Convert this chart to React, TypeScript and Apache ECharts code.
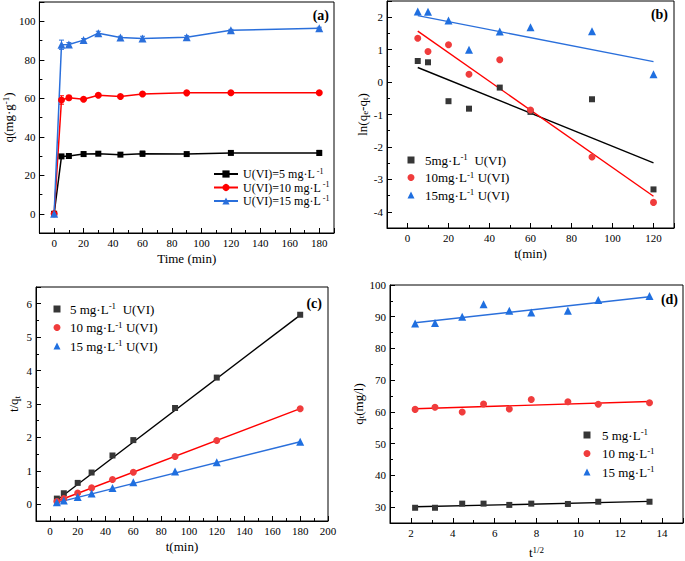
import React, { useEffect, useRef } from "react";
import * as echarts from "echarts";

// ---------- data ----------
const timeA = [0, 5, 10, 20, 30, 45, 60, 90, 120, 180];
const qA5 = [0, 29.8, 30.0, 31.0, 31.2, 30.7, 31.2, 31.0, 31.6, 31.6];
const qA10 = [0, 59.1, 60.3, 59.5, 61.6, 60.9, 62.2, 62.8, 62.9, 62.9];
const qA15 = [0, 87.8, 87.9, 90.2, 93.8, 91.6, 91.0, 91.7, 95.3, 96.4];
const errA5 = [0, 0.6, 0.6, 1.2, 0.6, 0.5, 1.3, 0.5, 0.5, 1.3];
const errA10 = [0, 2.2, 1.2, 0.6, 0.6, 0.5, 0.6, 0.4, 0.3, 0.3];
const errA15 = [0, 2.4, 1.0, 0.8, 1.0, 0.6, 1.2, 0.8, 0.5, 0.5];

const timeB = [5, 10, 20, 30, 45, 60, 90, 120];
const lnB5 = [0.65, 0.61, -0.59, -0.82, -0.17, -0.92, -0.53, -3.31];
const lnB10 = [1.35, 0.94, 1.15, 0.24, 0.69, -0.86, -2.31, -3.71];
const lnB15 = [2.18, 2.17, 1.9, 1.0, 1.56, 1.69, 1.57, 0.24];
const fitBx = [5, 120];
const fitB5 = [0.45, -2.49];
const fitB10 = [1.57, -3.52];
const fitB15 = [2.05, 0.63];

const timeC = [5, 10, 20, 30, 45, 60, 90, 120, 180];
const tqC5 = [0.17, 0.33, 0.64, 0.95, 1.46, 1.92, 2.88, 3.79, 5.67];
const tqC10 = [0.085, 0.17, 0.34, 0.49, 0.74, 0.96, 1.43, 1.91, 2.86];
const tqC15 = [0.06, 0.11, 0.22, 0.32, 0.49, 0.66, 0.98, 1.26, 1.87];
const fitCx = [5, 180];
const fitC5 = [0.12, 5.66];
const fitC10 = [0.09, 2.86];
const fitC15 = [0.05, 1.87];

const sqrtD = [2.2, 3.15, 4.45, 5.47, 6.7, 7.75, 9.5, 10.95, 13.4];
const qD5 = [29.8, 29.8, 31.1, 31.1, 30.7, 31.1, 31.0, 31.7, 31.7];
const qD10 = [60.8, 61.5, 60.0, 62.5, 60.9, 63.9, 63.2, 62.4, 62.9];
const qD15 = [87.9, 88.0, 90.0, 93.9, 91.9, 91.3, 91.9, 95.3, 96.5];
const fitDx = [2.2, 13.4];
const fitD5 = [30.1, 31.8];
const fitD10 = [61.0, 63.3];
const fitD15 = [88.1, 96.3];

const legendText: Record<string, string> = {
  a5: "{n|U(VI)=5 mg·L}{s| -1}",
  a10: "{n|U(VI)=10 mg·L}{s| -1}",
  a15: "{n|U(VI)=15 mg·L}{s| -1}",
  b5: "{sp| }{n|5mg·L}{s|-1}{n|  U(VI)}",
  b10: "{sp| }{n|10mg·L}{s|-1}{n| U(VI)}",
  b15: "{sp| }{n|15mg·L}{s|-1}{n| U(VI)}",
  c5: "{sp| }{n|5 mg·L}{s|-1}{n|  U(VI)}",
  c10: "{sp| }{n|10 mg·L}{s|-1}{n| U(VI)}",
  c15: "{sp| }{n|15 mg·L}{s|-1}{n| U(VI)}",
  d5: "{sp| }{n|5 mg·L}{s|-1}",
  d10: "{sp| }{n|10 mg·L}{s|-1}",
  d15: "{sp| }{n|15 mg·L}{s|-1}",
};

const FONT = "'Liberation Serif', 'DejaVu Serif', serif";
const BLACK = "#000000";
const RED = "#ff0000";
const BLUE = "#2a6fdb";
const MK_BLACK = "#363636";
const MK_RED = "#f03c3c";
const MK_BLUE = "#1f6fe0";

const zip = (xs: number[], ys: number[]) => xs.map((x, i) => [x, ys[i]]);

function richFor(size: number, spacer = 0) {
  return {
    n: { fontSize: size, fontFamily: FONT, fontWeight: "normal", color: "#000", lineHeight: size + 2 },
    s: { fontSize: size - 4, fontFamily: FONT, fontWeight: "normal", color: "#000", verticalAlign: "top", lineHeight: size - 3 },
    b: { fontSize: size - 4, fontFamily: FONT, fontWeight: "normal", color: "#000", verticalAlign: "bottom", lineHeight: size - 3 },
    sp: { width: spacer, fontSize: 4, lineHeight: 4 },
  };
}

function axis(
  gridIndex: number,
  min: number,
  max: number,
  splitNumber: number,
  name: string,
  nameGap: number,
  isY: boolean,
  showMax: boolean
) {
  return {
    type: "value",
    gridIndex,
    min,
    max,
    splitNumber,
    name,
    nameLocation: "middle",
    nameGap,
    nameRotate: isY ? 90 : 0,
    nameTextStyle: { fontFamily: FONT, fontSize: 13, fontWeight: "normal", color: "#000", rich: richFor(13) },
    axisLine: { show: true, onZero: false, lineStyle: { color: "#000", width: 1 } },
    axisTick: { show: true, inside: true, length: 5, lineStyle: { color: "#000" } },
    minorTick: { show: true, splitNumber: 2, length: 3, lineStyle: { color: "#000" } },
    splitLine: { show: false },
    minorSplitLine: { show: false },
    axisLabel: {
      color: "#000",
      fontFamily: FONT,
      fontWeight: "normal",
      fontSize: 11,
      margin: 4,
      showMinLabel: false,
      showMaxLabel: showMax,
    },
  };
}

function legend(
  left: number,
  top: number,
  names: string[],
  w: number,
  h: number,
  gap: number,
  size: number,
  spacer: number
) {
  return {
    orient: "vertical",
    left,
    top,
    padding: 0,
    itemWidth: w,
    itemHeight: h,
    itemGap: gap,
    data: names,
    formatter: (nm: string) => legendText[nm] || nm,
    textStyle: { fontFamily: FONT, fontSize: size, fontWeight: "normal", color: "#000", rich: richFor(size, spacer) },
    selectedMode: false,
  };
}

function scatter(name: string, idx: number, xs: number[], ys: number[], symbol: string, size: number, color: string) {
  return {
    type: "scatter",
    name,
    xAxisIndex: idx,
    yAxisIndex: idx,
    data: zip(xs, ys),
    symbol,
    symbolSize: size,
    itemStyle: { color, opacity: 1 },
    z: 5,
  };
}

function fit(name: string, idx: number, xs: number[], ys: number[], color: string) {
  return {
    type: "line",
    name,
    xAxisIndex: idx,
    yAxisIndex: idx,
    data: zip(xs, ys),
    showSymbol: false,
    symbol: "none",
    lineStyle: { color, width: 1.4 },
    z: 3,
  };
}

function kinetic(name: string, xs: number[], ys: number[], symbol: string, size: number, color: string) {
  return {
    type: "line",
    name,
    xAxisIndex: 0,
    yAxisIndex: 0,
    data: zip(xs, ys),
    symbol,
    symbolSize: size,
    showAllSymbol: true,
    lineStyle: { color, width: 1.5 },
    itemStyle: { color },
    z: 4,
  };
}

function errorBars(name: string, xs: number[], ys: number[], errs: number[], color: string) {
  return {
    type: "custom",
    name,
    xAxisIndex: 0,
    yAxisIndex: 0,
    data: xs.map((x, i) => [x, ys[i], errs[i]]),
    z: 3,
    renderItem: (_params: any, api: any) => {
      const x = api.value(0);
      const y = api.value(1);
      const e = api.value(2);
      const top = api.coord([x, y + e]);
      const bot = api.coord([x, y - e]);
      const cap = 2.5;
      const style = { stroke: color, lineWidth: 1 };
      return {
        type: "group",
        children: [
          { type: "line", shape: { x1: top[0], y1: top[1], x2: bot[0], y2: bot[1] }, style },
          { type: "line", shape: { x1: top[0] - cap, y1: top[1], x2: top[0] + cap, y2: top[1] }, style },
          { type: "line", shape: { x1: bot[0] - cap, y1: bot[1], x2: bot[0] + cap, y2: bot[1] }, style },
        ],
      };
    },
  };
}

export default function App() {
  const ref = useRef<HTMLDivElement>(null);
  useEffect(() => {
    if (!ref.current) return;
    const chart = echarts.init(ref.current, null, { renderer: "svg" });
    const gridStyle = { show: true, borderColor: "#000", borderWidth: 1, backgroundColor: "transparent", containLabel: false };
    const option: any = {
      animation: false,
      backgroundColor: "#fff",
      grid: [
        { left: 37, top: 2, width: 297, height: 231, ...gridStyle },
        { left: 387, top: 1, width: 287, height: 227, ...gridStyle },
        { left: 36, top: 287, width: 292, height: 234, ...gridStyle },
        { left: 390, top: 285, width: 293, height: 238, ...gridStyle },
      ],
      xAxis: [
        axis(0, -10, 190, 10, "Time (min)", 19, false, false),
        axis(1, -10, 130, 7, "t(min)", 19, false, false),
        axis(2, -10, 200, 10, "t(min)", 19, false, true),
        axis(3, 1, 15, 7, "{n|t}{s|1/2}", 22, false, false),
      ],
      yAxis: [
        axis(0, -10, 110, 6, "{n|q(mg·g}{s|-1}{n|)}", 20, true, false),
        axis(1, -4.5, 2.5, 7, "{n|ln(q}{b|e}{n|-q}{b|t}{n|)}", 17, true, false),
        axis(2, -0.5, 6.5, 7, "{n|t/q}{b|t}", 15, true, false),
        axis(3, 25, 100, 8, "{n|q}{b|t}{n|(mg/l)}", 22, true, true),
      ],
      legend: [
        legend(213, 167, ["a5", "a10", "a15"], 24, 9, 0.5, 12, 0),
        legend(407.5, 152.5, ["b5", "b10", "b15"], 7, 7, 3.5, 13, 5.5),
        legend(53.5, 301.5, ["c5", "c10", "c15"], 7, 7, 4.5, 13, 4.5),
        legend(583.5, 427.5, ["d5", "d10", "d15"], 7, 7, 4.5, 13, 6.5),
      ],
      graphic: [
        { type: "text", x: 329, y: 15, style: { text: "(a)", font: `bold 14px ${FONT}`, fill: "#000", align: "right", verticalAlign: "middle" } },
        { type: "text", x: 668, y: 14, style: { text: "(b)", font: `bold 14px ${FONT}`, fill: "#000", align: "right", verticalAlign: "middle" } },
        { type: "text", x: 322, y: 303, style: { text: "(c)", font: `bold 14px ${FONT}`, fill: "#000", align: "right", verticalAlign: "middle" } },
        { type: "text", x: 678, y: 299, style: { text: "(d)", font: `bold 14px ${FONT}`, fill: "#000", align: "right", verticalAlign: "middle" } },
      ],
      series: [
        errorBars("ea5", timeA, qA5, errA5, BLACK),
        errorBars("ea10", timeA, qA10, errA10, RED),
        errorBars("ea15", timeA, qA15, errA15, BLUE),
        kinetic("a5", timeA, qA5, "rect", 6, BLACK),
        kinetic("a10", timeA, qA10, "circle", 7, RED),
        kinetic("a15", timeA, qA15, "triangle", 8, BLUE),

        fit("fb5", 1, fitBx, fitB5, BLACK),
        fit("fb10", 1, fitBx, fitB10, RED),
        fit("fb15", 1, fitBx, fitB15, BLUE),
        scatter("b5", 1, timeB, lnB5, "rect", 6, MK_BLACK),
        scatter("b10", 1, timeB, lnB10, "circle", 7, MK_RED),
        scatter("b15", 1, timeB, lnB15, "triangle", 8, MK_BLUE),

        fit("fc5", 2, fitCx, fitC5, BLACK),
        fit("fc10", 2, fitCx, fitC10, RED),
        fit("fc15", 2, fitCx, fitC15, BLUE),
        scatter("c5", 2, timeC, tqC5, "rect", 6, MK_BLACK),
        scatter("c10", 2, timeC, tqC10, "circle", 7, MK_RED),
        scatter("c15", 2, timeC, tqC15, "triangle", 8, MK_BLUE),

        fit("fd5", 3, fitDx, fitD5, BLACK),
        fit("fd10", 3, fitDx, fitD10, RED),
        fit("fd15", 3, fitDx, fitD15, BLUE),
        scatter("d5", 3, sqrtD, qD5, "rect", 6, MK_BLACK),
        scatter("d10", 3, sqrtD, qD10, "circle", 7, MK_RED),
        scatter("d15", 3, sqrtD, qD15, "triangle", 8, MK_BLUE),
      ],
    };
    chart.setOption(option);
    return () => chart.dispose();
  }, []);
  return <div ref={ref} style={{ position: "absolute", left: 0, top: 0, width: 685, height: 561 }} />;
}
